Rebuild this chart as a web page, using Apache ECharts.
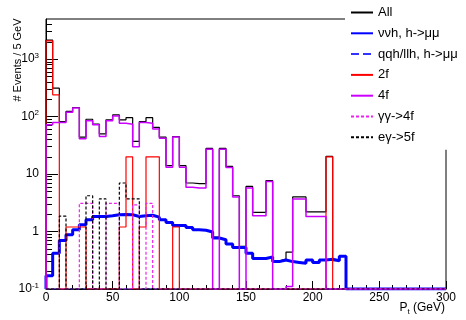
<!DOCTYPE html>
<html>
<head>
<meta charset="utf-8">
<script src="https://cdn.jsdelivr.net/npm/echarts@6/dist/echarts.min.js"></script>
<style>
  html, body { margin: 0; padding: 0; background: #fff; }
  #chart { width: 466px; height: 320px; }
</style>
</head>
<body>
<div id="chart"></div>
<script>
// bin width in GeV, 60 bins from 0 to 300
const binWidth = 5
const xTicks = [0, 50, 100, 150, 200, 250, 300]
const yMin = 0.1
const yMax = 5000
const yMinorTicks = [0.2, 0.3, 0.4, 0.5, 0.6, 0.7, 0.8, 0.9, 2, 3, 4, 5, 6, 7, 8, 9,
  20, 30, 40, 50, 60, 70, 80, 90, 200, 300, 400, 500, 600, 700, 800, 900, 2000, 3000, 4000]

const seriesNames = ['All', 'ννh, h->μμ', 'qqh/llh, h->μμ', '2f', '4f', 'γγ->4f', 'eγ->5f']

const allEvents = [
  2150, 313, 82, 123, 144, 44, 90, 74, 50, 88,
  107, 88, 96, 37, 82, 96, 65, 44, 14, 45,
  14, 7.0, 6.8, 6.8, 28, 0.8, 28, 13.6, 4.2, 0.55,
  6.1, 2.15, 2.15, 7.7, 0.31, 0.33, 0.44, 4.0, 4.0, 2.2,
  2.2, 2.2, 20.3, 0.31, 0.37, 0, 0, 0, 0, 0,
  0, 0, 0, 0, 0, 0, 0, 0, 0, 0
]
const nuNuH = [
  0.17, 0.42, 0.70, 0.88, 1.07, 1.31, 1.60, 1.83, 1.83, 1.88,
  1.96, 1.98, 1.96, 1.83, 1.88, 1.92, 1.78, 1.60, 1.44, 1.28,
  1.28, 1.18, 1.07, 1.05, 0.98, 0.77, 0.72, 0.61, 0.53, 0.53,
  0.42, 0.34, 0.34, 0.36, 0.30, 0.32, 0.30, 0.29, 0.28, 0.32,
  0.29, 0.32, 0.33, 0.31, 0.37, 0, 0, 0, 0, 0,
  0, 0, 0, 0, 0, 0, 0, 0, 0, 0
]
const qqhLlh = [
  0, 0, 0, 0, 0, 0, 0, 0, 0, 0,
  0, 0, 0, 0, 0, 0, 0, 0, 0, 0,
  0, 0, 0, 0, 0, 0, 0, 0, 0, 0,
  0, 0, 0, 0, 0, 0, 0, 0, 0, 0,
  0, 0, 0, 0, 0, 0, 0, 0, 0, 0,
  0, 0, 0, 0, 0, 0, 0, 0, 0, 0
]
const twoF = [
  2080, 240, 0, 1.2, 1.2, 1.2, 0, 0, 0, 0,
  0, 1.2, 20, 0, 1.2, 20, 20, 0, 0, 1.2,
  0, 0, 0, 0, 0, 0, 0, 0, 0, 0,
  0, 0, 0, 0, 0, 0, 0, 0, 0, 0,
  0, 0, 20, 0, 0, 0, 0, 0, 0, 0,
  0, 0, 0, 0, 0, 0, 0, 0, 0, 0
]
const fourF = [
  72, 79, 79, 119, 141, 41, 85, 72, 45, 85,
  103, 77, 74, 30, 79, 77, 61, 42, 13.2, 44,
  13.2, 5.9, 5.7, 5.7, 27, 0, 27, 13, 4.0, 0,
  5.7, 1.88, 1.88, 7.4, 0, 0, 0.11, 3.7, 3.7, 1.83,
  1.83, 1.83, 0, 0, 0, 0, 0, 0, 0, 0,
  0, 0, 0, 0, 0, 0, 0, 0, 0, 0
]
const gamGam4f = [
  0, 0, 0, 0, 0, 3.1, 3.1, 0, 0, 3.1,
  3.1, 0, 0, 2.9, 0, 3.1, 0, 0, 0, 0,
  0, 0, 0, 0, 0, 0, 0, 0, 0, 0,
  0, 0, 0, 0, 0, 0, 0, 0, 0, 0,
  0, 0, 0, 0, 0, 0, 0, 0, 0, 0,
  0, 0, 0, 0, 0, 0, 0, 0, 0, 0
]
const eGam5f = [
  0, 0, 1.85, 0, 0, 0, 4.2, 0, 3.7, 0,
  0, 7.0, 3.7, 3.7, 0, 0, 0, 0, 0, 0,
  0, 0, 0, 0, 0, 0, 0, 0, 0, 0,
  0, 0, 0, 0, 0, 0, 0, 0, 0, 0,
  0, 0, 0, 0, 0, 0, 0, 0, 0, 0,
  0, 0, 0, 0, 0, 0, 0, 0, 0, 0
]

// histogram outline: points at bin low edges, empty bins sit on the axis floor
function histPoints(values) {
  const pts = [[0, yMin]]
  values.forEach((v, i) => {
    pts.push([i * binWidth, v > 0 ? v : yMin])
  })
  const last = values[values.length - 1]
  pts.push([values.length * binWidth, last > 0 ? last : yMin])
  return pts
}

function hist(name, values, color, width, type) {
  return {
    name: name,
    type: 'line',
    step: 'end',
    symbol: 'none',
    clip: true,
    lineStyle: { color: color, width: width, type: type || 'solid' },
    itemStyle: { color: color },
    data: histPoints(values)
  }
}

const supMap = { '-1': '-1', '2': '2', '3': '3' }
const fontFamily = 'Liberation Sans, Arial, sans-serif'

const chart = echarts.init(document.getElementById('chart'), null, { renderer: 'canvas' })

chart.setOption({
  animation: false,
  textStyle: { fontFamily: fontFamily },
  grid: {
    left: 46,
    right: 20,
    top: 19,
    bottom: 31,
    outerBoundsMode: 'none',
    containLabel: false,
    show: true,
    borderColor: '#000',
    borderWidth: 1,
    backgroundColor: 'transparent'
  },
  legend: {
    orient: 'vertical',
    left: 345,
    top: 0,
    padding: [6, 10, 6, 5],
    backgroundColor: '#fff',
    itemWidth: 22,
    itemHeight: 14,
    itemGap: 7.8,
    itemStyle: { opacity: 0 },
    textStyle: { fontSize: 13, color: '#000', fontFamily: fontFamily },
    data: seriesNames
  },
  // axis titles, placed the ROOT way (at the far end of each axis)
  graphic: [{
    type: 'text',
    x: 445,
    y: 308,
    style: {
      text: 'P{sub|t} (GeV)',
      font: '12px ' + fontFamily,
      fill: '#000',
      align: 'right',
      verticalAlign: 'middle',
      rich: { sub: { fontSize: 8, padding: [7, 0, 0, 0] } }
    }
  }, {
    type: 'text',
    x: 18,
    y: 60,
    rotation: Math.PI / 2,
    style: {
      text: '# Events / 5 GeV',
      font: '11px ' + fontFamily,
      fill: '#000',
      align: 'center',
      verticalAlign: 'middle'
    }
  }],
  xAxis: {
    type: 'value',
    min: xTicks[0],
    max: xTicks[xTicks.length - 1],
    interval: 50,
    axisLine: { lineStyle: { color: '#000', width: 1 } },
    axisTick: { inside: true, length: 8, lineStyle: { color: '#000' } },
    minorTick: { show: true, splitNumber: 5, length: 4, lineStyle: { color: '#000' } },
    axisLabel: { fontSize: 12, color: '#000', margin: 3 },
    splitLine: { show: false }
  },
  yAxis: [{
    type: 'log',
    logBase: 10,
    min: yMin,
    max: yMax,
    axisLine: { lineStyle: { color: '#000', width: 1 } },
    axisTick: { inside: true, length: 12, lineStyle: { color: '#000' } },
    axisLabel: {
      fontSize: 12,
      color: '#000',
      margin: 7,
      showMaxLabel: false,
      formatter: function (v) {
        const e = Math.round(Math.log10(v))
        if (e === 0) return '1'
        if (e === 1) return '10'
        return '10{sup|' + supMap[String(e)] + '}'
      },
      rich: { sup: { fontSize: 8, padding: [0, 0, 7, 0] } }
    },
    splitLine: { show: false }
  }, {
    type: 'log',
    logBase: 10,
    min: yMin,
    max: yMax,
    position: 'left',
    axisLine: { show: false },
    axisLabel: { show: false },
    axisTick: { inside: true, length: 6, customValues: yMinorTicks, lineStyle: { color: '#000' } },
    splitLine: { show: false }
  }],
  series: [
    hist(seriesNames[0], allEvents, '#000000', 1.2),
    hist(seriesNames[1], nuNuH, '#0000ff', 3),
    hist(seriesNames[2], qqhLlh, '#3333ff', 1, 'dashed'),
    hist(seriesNames[3], twoF, '#ff0000', 1.2),
    hist(seriesNames[4], fourF, '#cc00ff', 1.5),
    hist(seriesNames[5], gamGam4f, '#ee22ee', 1.2, [3, 2]),
    hist(seriesNames[6], eGam5f, '#000000', 1.2, [3, 2])
  ]
})
</script>
</body>
</html>
